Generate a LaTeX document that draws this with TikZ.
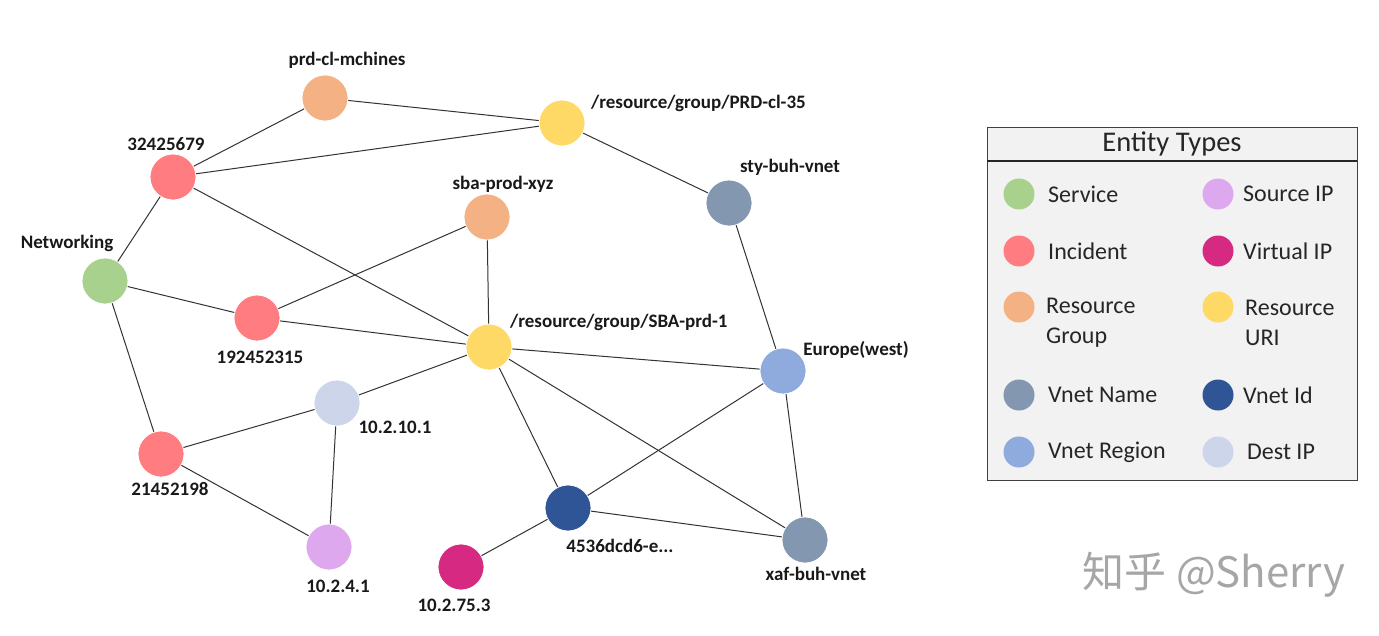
\documentclass[tikz,border=0pt]{standalone}
\usepackage{fontspec}
\setmainfont{Carlito}
\newfontfamily\cjkfont{Noto Sans CJK SC}
\definecolor{cService}{HTML}{A9D18E}
\definecolor{cIncident}{HTML}{FF7C80}
\definecolor{cRG}{HTML}{F4B183}
\definecolor{cURI}{HTML}{FFD966}
\definecolor{cVName}{HTML}{8497B0}
\definecolor{cVRegion}{HTML}{8FAADC}
\definecolor{cSrc}{HTML}{DDA8EE}
\definecolor{cVIP}{HTML}{D62A82}
\definecolor{cVId}{HTML}{2F5597}
\definecolor{cDest}{HTML}{CDD5EA}
\definecolor{legbg}{HTML}{F2F2F2}
\tikzset{
  ent/.style={circle, minimum size=46pt, inner sep=0pt, draw=white, line width=0.8pt},
  lab/.style={font=\fontsize{19}{21}\selectfont\bfseries, inner sep=0pt, text=black!90},
  edge/.style={draw=black!80, line width=1pt},
  legdot/.style={circle, minimum size=31pt, inner sep=0pt},
  legtxt/.style={font=\fontsize{24}{30}\selectfont, inner sep=0pt, anchor=west, text=black!85, align=left},
}
\begin{document}
\begin{tikzpicture}[x=1pt,y=-1pt]
\useasboundingbox (0,0) rectangle (1379,635);
\fill[white] (0,0) rectangle (1379,635);
% node positions
\coordinate (pprd) at (325,98);
\coordinate (puri35) at (562,123);
\coordinate (pi324) at (173,177);
\coordinate (psba) at (487,217);
\coordinate (psty) at (729,203);
\coordinate (pnet) at (105,281);
\coordinate (pi192) at (257,318);
\coordinate (puri1) at (489,347);
\coordinate (peu) at (783,371);
\coordinate (pd10) at (337,403);
\coordinate (pi214) at (161,454);
\coordinate (pvid) at (568,508);
\coordinate (pxaf) at (805,540);
\coordinate (ps4) at (329,547);
\coordinate (pv75) at (461,567);
% entity nodes
\node[ent, fill=cRG] (prd) at (pprd) {};
\node[ent, fill=cURI] (uri35) at (puri35) {};
\node[ent, fill=cIncident] (i324) at (pi324) {};
\node[ent, fill=cRG] (sba) at (psba) {};
\node[ent, fill=cVName] (sty) at (psty) {};
\node[ent, fill=cService] (net) at (pnet) {};
\node[ent, fill=cIncident] (i192) at (pi192) {};
\node[ent, fill=cURI] (uri1) at (puri1) {};
\node[ent, fill=cVRegion] (eu) at (peu) {};
\node[ent, fill=cDest] (d10) at (pd10) {};
\node[ent, fill=cIncident] (i214) at (pi214) {};
\node[ent, fill=cVId] (vid) at (pvid) {};
\node[ent, fill=cVName] (xaf) at (pxaf) {};
\node[ent, fill=cSrc] (s4) at (ps4) {};
\node[ent, fill=cVIP] (v75) at (pv75) {};
% edges
\draw[edge] (prd) -- (uri35);
\draw[edge] (prd) -- (i324);
\draw[edge] (i324) -- (uri35);
\draw[edge] (i324) -- (net);
\draw[edge] (i324) -- (uri1);
\draw[edge] (uri35) -- (sty);
\draw[edge] (sty) -- (eu);
\draw[edge] (sba) -- (i192);
\draw[edge] (sba) -- (uri1);
\draw[edge] (net) -- (i192);
\draw[edge] (net) -- (i214);
\draw[edge] (i192) -- (uri1);
\draw[edge] (uri1) -- (eu);
\draw[edge] (uri1) -- (d10);
\draw[edge] (uri1) -- (vid);
\draw[edge] (uri1) -- (xaf);
\draw[edge] (eu) -- (vid);
\draw[edge] (eu) -- (xaf);
\draw[edge] (d10) -- (i214);
\draw[edge] (d10) -- (s4);
\draw[edge] (i214) -- (s4);
\draw[edge] (vid) -- (xaf);
\draw[edge] (vid) -- (v75);
% labels
\node[lab] (lprd) at (347,60) {prd-cl-mchines};
\node[lab, anchor=west] (luri35) at (591,103) {/resource/group/PRD-cl-35};
\node[lab] (li324) at (166,144) {32425679};
\node[lab] (lsba) at (503,184) {sba-prod-xyz};
\node[lab] (lsty) at (790,167) {sty-buh-vnet};
\node[lab] (lnet) at (67,243) {Networking};
\node[lab] (li192) at (260,357) {192452315};
\node[lab, anchor=west] (luri1) at (510,322) {/resource/group/SBA-prd-1};
\node[lab] (leu) at (856,350) {Europe(west)};
\node[lab] (ld10) at (395,427) {10.2.10.1};
\node[lab] (li214) at (170,489) {21452198};
\node[lab] (lvid) at (620,546) {4536dcd6-e...};
\node[lab] (lxaf) at (816,574) {xaf-buh-vnet};
\node[lab] (ls4) at (338,586) {10.2.4.1};
\node[lab] (lv75) at (454,605) {10.2.75.3};
% legend
\node[draw=black!75, fill=legbg, line width=0.8pt, minimum width=370pt, minimum height=353pt, inner sep=0pt, anchor=north west] (legend) at (987,127) {};
\coordinate (hl) at (987,161);
\coordinate (hr) at (1357,161);
\draw[black!85, line width=1.8pt] (hl) -- (hr);
\node[font=\fontsize{28.5}{30}\selectfont, inner sep=0pt, text=black!85] (ltitle) at (1172,144) {Entity Types};
\node[legdot, fill=cService] (k1) at (1019,194) {};
\node[legtxt] (t1) at (1048,194) {Service};
\node[legdot, fill=cIncident] (k2) at (1019,251) {};
\node[legtxt] (t2) at (1048,251) {Incident};
\node[legdot, fill=cRG] (k3) at (1019,307) {};
\node[legtxt] (t3) at (1046,323) {Resource\\Group};
\node[legdot, fill=cVName] (k4) at (1019,395) {};
\node[legtxt] (t4) at (1048,395) {Vnet Name};
\node[legdot, fill=cVRegion] (k5) at (1019,452) {};
\node[legtxt] (t5) at (1048,452) {Vnet Region};
\node[legdot, fill=cSrc] (k6) at (1218,194) {};
\node[legtxt] (t6) at (1243,194) {Source IP};
\node[legdot, fill=cVIP] (k7) at (1218,251) {};
\node[legtxt] (t7) at (1243,251) {Virtual IP};
\node[legdot, fill=cURI] (k8) at (1218,307) {};
\node[legtxt] (t8) at (1245,323) {Resource\\URI};
\node[legdot, fill=cVId] (k9) at (1218,395) {};
\node[legtxt] (t9) at (1243,395) {Vnet Id};
\node[legdot, fill=cDest] (k10) at (1218,452) {};
\node[legtxt] (t10) at (1247,452) {Dest IP};
% watermark
\node[font=\cjkfont\fontsize{42}{44}\selectfont, text=black!35, inner sep=0pt] (wm) at (1214,575) {知乎 @Sherry};
\end{tikzpicture}
\end{document}
